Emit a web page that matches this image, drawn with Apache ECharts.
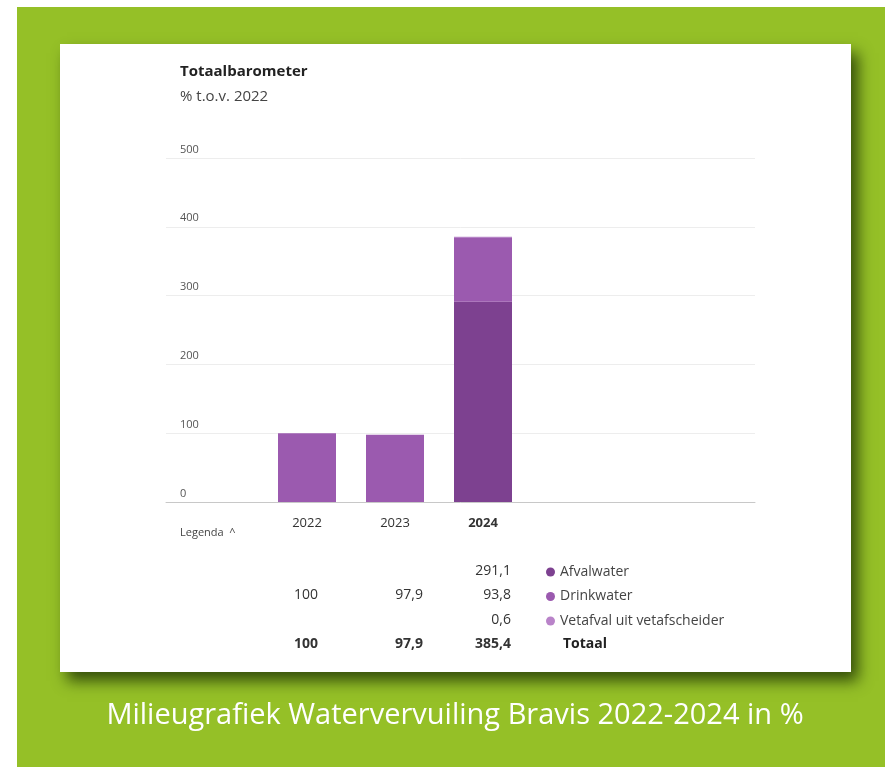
<!DOCTYPE html>
<html>
<head>
<meta charset="utf-8">
<script src="https://cdn.jsdelivr.net/npm/echarts@6/dist/echarts.min.js"></script>
<style>
  html, body { margin: 0; padding: 0; background: #ffffff; }
  #chart { width: 885px; height: 767px; }
</style>
</head>
<body>
<div id="chart"></div>
<script>
// Data
const jaren = ["2022", "2023", "2024"];
const afvalwater = [null, null, 291.1];
const drinkwater = [100, 97.9, 93.8];
const vetafval = [null, null, 0.6];
const totaal = [100, 97.9, 385.4];
const yTicks = [0, 100, 200, 300, 400, 500];

// Colors
const kleurAfval = "#7d4190";
const kleurDrink = "#9b5aaf";
const kleurVet = "#b983c9";
const groen = "#95c027";

// Number with comma as decimal separator
function fmt(v) {
  return v == null ? "" : String(v).replace(".", ",");
}

const dom = document.getElementById("chart");
const myChart = echarts.init(dom, null, { renderer: "canvas" });

// Layout of the table under the chart
const kolomRechts = [318, 423, 511];
const rijY = [571, 595, 620, 644];
const rijen = [afvalwater, drinkwater, vetafval, totaal];

const tabelTekst = [];
rijen.forEach((rij, r) => {
  rij.forEach((v, c) => {
    if (v == null) return;
    tabelTekst.push({
      type: "text",
      x: kolomRechts[c],
      y: rijY[r],
      style: {
        text: fmt(v),
        align: "right",
        verticalAlign: "middle",
        fill: "#333",
        font: (r === 3 ? "bold " : "") + "14px 'Open Sans'"
      }
    });
  });
});

const option = {
  animation: false,
  graphic: [
    { type: "rect", shape: { x: 17, y: 7, width: 868, height: 760 }, style: { fill: groen }, z: -10 },
    {
      type: "rect", shape: { x: 60, y: 44, width: 791, height: 628 },
      style: { fill: "#ffffff", shadowBlur: 14, shadowOffsetX: 7, shadowOffsetY: 9, shadowColor: "rgba(20,40,0,0.75)" },
      z: -9
    },
    { type: "text", x: 180, y: 72, style: { text: "Totaalbarometer", verticalAlign: "middle", font: "bold 15px 'Open Sans'", fill: "#222" } },
    { type: "text", x: 180, y: 97, style: { text: "% t.o.v. 2022", verticalAlign: "middle", font: "15px 'Open Sans'", fill: "#444" } },
    { type: "text", x: 180, y: 533, style: { text: "Legenda  ^", verticalAlign: "middle", font: "11px 'Open Sans'", fill: "#444" } },
    { type: "text", x: 563, y: rijY[3], style: { text: "Totaal", verticalAlign: "middle", font: "bold 14px 'Open Sans'", fill: "#222" } },
    {
      type: "text", x: 455, y: 716,
      style: {
        text: "Milieugrafiek Watervervuiling Bravis 2022-2024 in %",
        align: "center", verticalAlign: "middle",
        font: "29px 'Open Sans'", fill: "#ffffff"
      }
    }
  ].concat(tabelTekst),
  legend: {
    orient: "vertical",
    left: 541,
    top: 560,
    itemWidth: 9,
    itemHeight: 9,
    itemGap: 10.5,
    icon: "circle",
    textStyle: { fontFamily: "Open Sans", fontSize: 14, color: "#444", lineHeight: 14 },
    data: ["Afvalwater", "Drinkwater", "Vetafval uit vetafscheider"]
  },
  grid: [
    { left: 166, right: 130, top: 158, bottom: 265 },
    { left: 263, width: 264, top: 158, bottom: 265 }
  ],
  xAxis: [
    {
      gridIndex: 0, type: "category", data: jaren,
      axisLine: { show: true, lineStyle: { color: "#c8c8c8" } },
      axisTick: { show: false }, axisLabel: { show: false }
    },
    {
      gridIndex: 1, type: "category", data: jaren,
      axisLine: { show: false }, axisTick: { show: false },
      axisLabel: {
        margin: 15,
        fontFamily: "Open Sans", fontSize: 13, color: "#333",
        formatter: (v) => (v === "2024" ? "{b|" + v + "}" : v),
        rich: { b: { fontWeight: "bold", fontFamily: "Open Sans", fontSize: 13, color: "#333" } }
      }
    }
  ],
  yAxis: [
    {
      gridIndex: 0, type: "value", min: yTicks[0], max: yTicks[yTicks.length - 1], interval: 100,
      axisLine: { show: false }, axisTick: { show: false },
      splitLine: { lineStyle: { color: "#ededed" } },
      axisLabel: {
        inside: true, margin: 14, verticalAlign: "bottom", padding: [0, 0, 3, 0],
        fontFamily: "Open Sans", fontSize: 11, color: "#555"
      }
    },
    {
      gridIndex: 1, type: "value", min: 0, max: 500, show: false
    }
  ],
  series: [
    {
      name: "Afvalwater", type: "bar", stack: "t", xAxisIndex: 1, yAxisIndex: 1,
      barWidth: 58, data: afvalwater, itemStyle: { color: kleurAfval }
    },
    {
      name: "Drinkwater", type: "bar", stack: "t", xAxisIndex: 1, yAxisIndex: 1,
      barWidth: 58, data: drinkwater, itemStyle: { color: kleurDrink }
    },
    {
      name: "Vetafval uit vetafscheider", type: "bar", stack: "t", xAxisIndex: 1, yAxisIndex: 1,
      barWidth: 58, data: vetafval, itemStyle: { color: kleurVet }
    }
  ]
};

myChart.setOption(option);
</script>
</body>
</html>
